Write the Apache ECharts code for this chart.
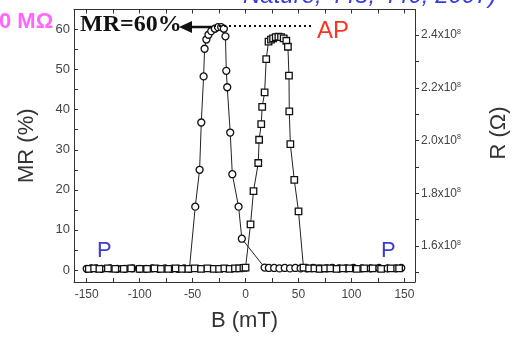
<!DOCTYPE html>
<html>
<head>
<meta charset="utf-8">
<script src="https://cdn.jsdelivr.net/npm/echarts@6/dist/echarts.min.js"></script>
<style>
html,body{margin:0;padding:0;background:#fff;}
#main{width:514px;height:341px;}
</style>
</head>
<body>
<div id="main"></div>
<script>
// sweep -150 -> +150 (right peak)
var upB = [-148,-143,-138,-130,-123,-115,-108,-100,-93,-86,-80,-73,-66,-60,-54,-48,-42,-36,-30,-25,-20,-15,-10,-6,-2,0,
    4.7,7.5,12,12.8,14.8,15.7,18,19.5,21.7,24,26,28.5,31,33.5,36,38.5,40,41,41.3,42.3,46,50,54.7,
    60,65,70,75,80,86,92,98,105,112,120,128,137,145];
var upMR = [0.3,0.4,0.3,0.4,0.3,0.3,0.4,0.3,0.3,0.4,0.3,0.3,0.4,0.3,0.3,0.4,0.3,0.4,0.3,0.3,0.4,0.3,0.4,0.4,0.5,0.6,
    11.4,19.7,26.7,32.5,36.4,40.7,44.3,52.6,57,57.5,57.8,58.1,58.2,58.1,57.8,57.2,55.7,48.5,39.6,31.4,22.5,14.6,0.6,
    0.4,0.4,0.3,0.4,0.4,0.3,0.4,0.4,0.3,0.4,0.4,0.3,0.4,0.4];
// sweep +150 -> -150 (left peak)
var downB = [-150,-146,-141,-136,-128,-121,-114,-107,-100,-94,-88,-82,-76,-70,-64,-58,-53,
    -47.5,-43.4,-41.8,-39.6,-38.7,-37,-35,-32.4,-29,-26,-23,-20.5,-19,-18.2,-17.3,-14.5,-12.5,-6.6,-3.5,
    18,22,27,32,37,42,47,52,58,64,70,76,82,88,95,102,110,118,126,134,142,147];
var downMR = [0.3,0.4,0.4,0.3,0.4,0.3,0.3,0.4,0.3,0.3,0.4,0.3,0.4,0.3,0.3,0.4,0.3,
    15.8,25,36.8,48.3,55.2,57.5,58.7,59.6,60.2,60.6,60.6,60.2,58.3,49.7,45.6,34.3,23.9,15.8,7.8,
    0.6,0.5,0.5,0.4,0.5,0.4,0.5,0.4,0.4,0.5,0.4,0.4,0.5,0.4,0.4,0.5,0.4,0.4,0.5,0.4,0.4,0.5];
var xLabels = [-150,-100,-50,0,50,100,150];
var xTicks = [-150,-125,-100,-75,-50,-25,0,25,50,75,100,125,150];
var mrLabels = [0,10,20,30,40,50,60];
var mrTicks = [0,5,10,15,20,25,30,35,40,45,50,55,60,65];
var rLabels = [1.6,1.8,2.0,2.2,2.4];
var rTicks = [1.5,1.6,1.7,1.8,1.9,2.0,2.1,2.2,2.3,2.4];

function pairs(xs, ys) {
    var out = [];
    for (var i = 0; i < xs.length; i++) {
        out.push([xs[i], ys[i]]);
    }
    return out;
}

var chart = echarts.init(document.getElementById('main'));
var axisCol = '#333';
var option = {
    animation: false,
    grid: {left: 74, right: 99, top: 9.5, bottom: 59},
    xAxis: [{
        type: 'value', min: -162, max: 160,
        name: 'B (mT)', nameLocation: 'middle', nameGap: 28,
        nameTextStyle: {fontSize: 22, color: '#333', fontFamily: 'Liberation Sans'},
        axisLine: {show: true, onZero: false, lineStyle: {color: axisCol, width: 1}},
        axisTick: {inside: true, length: 4, customValues: xTicks, lineStyle: {color: axisCol}},
        axisLabel: {customValues: xLabels, fontSize: 12, color: '#444', margin: 7, fontFamily: 'Liberation Sans'},
        splitLine: {show: false}
    }, {
        type: 'value', min: -162, max: 160, position: 'top',
        axisLine: {show: true, onZero: false, lineStyle: {color: axisCol, width: 1}},
        axisTick: {inside: true, length: 4, customValues: xTicks, lineStyle: {color: axisCol}},
        axisLabel: {show: false},
        splitLine: {show: false}
    }],
    yAxis: [{
        type: 'value', min: -3, max: 65,
        name: 'MR (%)', nameLocation: 'middle', nameGap: 36,
        nameTextStyle: {fontSize: 22, color: '#333', fontFamily: 'Liberation Sans'},
        axisLine: {show: true, onZero: false, lineStyle: {color: axisCol, width: 1}},
        axisTick: {inside: true, length: 4, customValues: mrTicks, lineStyle: {color: axisCol}},
        axisLabel: {customValues: mrLabels, fontSize: 13, color: '#444', margin: 4, fontFamily: 'Liberation Sans'},
        splitLine: {show: false}
    }, {
        type: 'value', min: 1.4635, max: 2.4967, position: 'right',
        axisLine: {show: true, onZero: false, lineStyle: {color: axisCol, width: 1}},
        axisTick: {inside: false, length: 4, customValues: rTicks, lineStyle: {color: axisCol}},
        axisLabel: {
            customValues: rLabels, margin: 6,
            formatter: function (v) { return '{a|' + v.toFixed(1) + 'x10}{b|8}'; },
            rich: {
                a: {fontSize: 12, color: '#444', fontFamily: 'Liberation Sans'},
                b: {fontSize: 7, color: '#444', fontFamily: 'Liberation Sans', verticalAlign: 'top', padding: [0, 0, 6, 0]}
            }
        },
        splitLine: {show: false}
    }],
    series: [{
        type: 'line', data: pairs(downB, downMR),
        symbol: 'circle', symbolSize: 7,
        lineStyle: {color: '#222', width: 1},
        itemStyle: {color: '#fff', borderColor: '#111', borderWidth: 1.3}
    }, {
        type: 'line', data: pairs(upB, upMR),
        symbol: 'rect', symbolSize: 6.5,
        lineStyle: {color: '#222', width: 1},
        itemStyle: {color: '#fff', borderColor: '#111', borderWidth: 1.3}
    }],
    graphic: [
        {type: 'text', left: -1, top: 11, z: 10,
            style: {text: '0 MΩ', fontSize: 22, fontWeight: 'bold', fill: '#ff66ff', fontFamily: 'Liberation Sans'}},
        {type: 'text', x: 243, y: -4, z: 10,
            style: {text: 'Nature, 445, 440, 2007)', fontSize: 24, fontStyle: 'italic', fill: '#3b3bdd', fontFamily: 'Liberation Sans', verticalAlign: 'middle'}},
        {type: 'text', x: 80, y: 25, z: 10,
            style: {text: 'MR=60%', fontSize: 24, fontWeight: 'bold', fill: '#111', fontFamily: 'Liberation Serif', verticalAlign: 'middle'}},
        {type: 'polygon', z: 10, shape: {points: [[179, 27], [192, 21], [192, 33]]}, style: {fill: '#111'}},
        {type: 'line', z: 10, shape: {x1: 190, y1: 27, x2: 212, y2: 27}, style: {stroke: '#111', lineWidth: 2.5}},
        {type: 'line', z: 10, shape: {x1: 214, y1: 26, x2: 313, y2: 26}, style: {stroke: '#111', lineWidth: 2, lineDash: [2, 3]}},
        {type: 'text', x: 317, y: 31, z: 10,
            style: {text: 'AP', fontSize: 24, fill: '#ff3322', fontFamily: 'Liberation Sans', verticalAlign: 'middle'}},
        {type: 'text', x: 97, y: 251, z: 10,
            style: {text: 'P', fontSize: 22, fill: '#3b3bd0', fontFamily: 'Liberation Sans', verticalAlign: 'middle'}},
        {type: 'text', x: 381, y: 251, z: 10,
            style: {text: 'P', fontSize: 22, fill: '#3b3bd0', fontFamily: 'Liberation Sans', verticalAlign: 'middle'}},
        {type: 'text', x: 499, y: 133, rotation: Math.PI / 2, z: 10,
            style: {text: 'R (Ω)', fontSize: 22, fill: '#333', fontFamily: 'Liberation Sans', align: 'center', verticalAlign: 'middle'}}
    ]
};
chart.setOption(option);
</script>
</body>
</html>
